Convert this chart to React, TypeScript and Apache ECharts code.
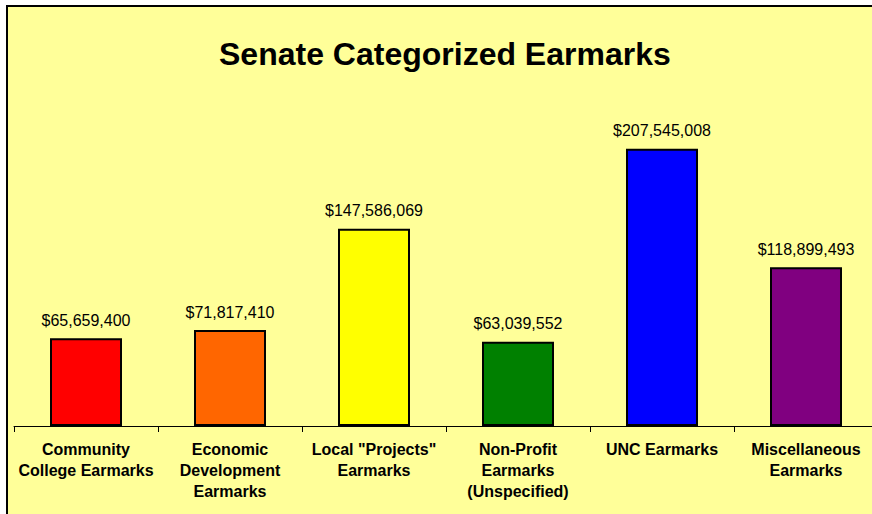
import React, { useEffect, useRef } from "react";
import * as echarts from "echarts";

const categories = [
  "Community\nCollege Earmarks",
  "Economic\nDevelopment\nEarmarks",
  "Local \"Projects\"\nEarmarks",
  "Non-Profit\nEarmarks\n(Unspecified)",
  "UNC Earmarks",
  "Miscellaneous\nEarmarks",
];
const values = [65659400, 71817410, 147586069, 63039552, 207545008, 118899493];
const barColors = ["#FF0000", "#FF6600", "#FFFF00", "#008000", "#0000FF", "#800080"];
const titleText = "Senate Categorized Earmarks";

const fmt = (v: number) => "$" + v.toLocaleString("en-US");

export default function App() {
  const ref = useRef<HTMLDivElement>(null);
  useEffect(() => {
    document.body.style.margin = "0";
    const chart = echarts.init(ref.current!, null, { renderer: "svg" });
    chart.setOption({
      animation: false,
      backgroundColor: "#FFFFFF",
      graphic: [
        {
          type: "rect",
          z: -10,
          shape: { x: 7, y: 6, width: 900, height: 600 },
          style: { fill: "#FFFF99", stroke: "#000000", lineWidth: 2 },
        },
      ],
      title: {
        text: titleText,
        left: 214,
        top: 33,
        textStyle: {
          fontFamily: "Liberation Sans, Arial, sans-serif",
          fontSize: 32,
          fontWeight: "bold",
          color: "#000000",
        },
      },
      grid: {
        left: 14,
        width: 864,
        top: 92,
        height: 334,
        containLabel: false,
        outerBoundsMode: "none",
      },
      xAxis: {
        type: "category",
        data: categories,
        axisLine: { show: true, lineStyle: { color: "#000000", width: 1 } },
        axisTick: { show: true, length: 6, lineStyle: { color: "#000000" } },
        axisLabel: {
          interval: 0,
          margin: 13,
          fontFamily: "Liberation Sans, Arial, sans-serif",
          fontSize: 16,
          fontWeight: "bold",
          color: "#000000",
          lineHeight: 21,
        },
      },
      yAxis: {
        type: "value",
        min: 0,
        max: 250000000,
        show: false,
        splitLine: { show: false },
      },
      series: [
        {
          type: "bar",
          barWidth: 72,
          data: values.map((v, i) => ({
            value: v,
            itemStyle: { color: barColors[i], borderColor: "#000000", borderWidth: 2 },
          })),
          label: {
            show: true,
            position: "top",
            distance: 10,
            formatter: (p: any) => fmt(p.value),
            fontFamily: "Liberation Sans, Arial, sans-serif",
            fontSize: 16,
            color: "#000000",
          },
        },
      ],
    });
    return () => chart.dispose();
  }, []);
  return <div ref={ref} style={{ width: 872, height: 514 }} />;
}
